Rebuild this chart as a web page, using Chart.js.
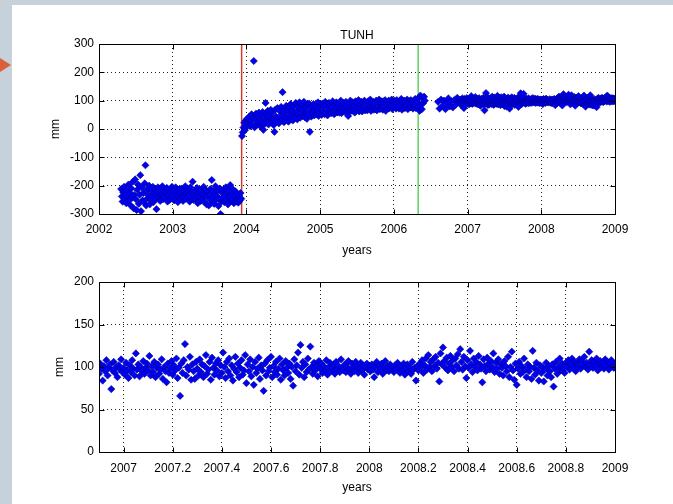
<!DOCTYPE html>
<html>
<head>
<meta charset="utf-8">
<title>TUNH</title>
<script src="https://cdn.jsdelivr.net/npm/chart.js@4.4.0/dist/chart.umd.min.js"></script>
<style>
html, body { margin: 0; padding: 0; }
body { width: 673px; height: 504px; background: #c6d1da; position: relative; overflow: hidden; }
#sheet { position: absolute; left: 12px; top: 5px; right: 0; bottom: 0; background: #fff; }
#arrow { position: absolute; left: 0; top: 58px; width: 0; height: 0;
  border-top: 7.5px solid transparent; border-bottom: 7.5px solid transparent; border-left: 11px solid #d9603b; }
canvas { position: absolute; left: 0; }
#topChart { top: 0; }
#zoomChart { top: 258px; }
</style>
</head>
<body>
<div id="sheet"></div>
<div id="arrow"></div>
<canvas id="topChart" width="673" height="258"></canvas>
<canvas id="zoomChart" width="673" height="246"></canvas>
<script>
// station
const station = 'TUNH';

// 2002.3 - 2003.93, before the offset
const earlyYears = [
  2002.30,2002.31,2002.32,2002.33,2002.34,2002.35,2002.36,2002.37,2002.38,2002.39,
  2002.40,2002.41,2002.42,2002.43,2002.44,2002.45,2002.46,2002.47,2002.48,2002.49,
  2002.50,2002.51,2002.52,2002.53,2002.54,2002.55,2002.56,2002.57,2002.58,2002.59,
  2002.60,2002.61,2002.62,2002.63,2002.64,2002.65,2002.66,2002.67,2002.68,2002.69,
  2002.70,2002.71,2002.72,2002.73,2002.74,2002.75,2002.76,2002.77,2002.78,2002.79,
  2002.80,2002.81,2002.82,2002.83,2002.84,2002.85,2002.86,2002.87,2002.88,2002.89,
  2002.90,2002.91,2002.92,2002.93,2002.94,2002.95,2002.96,2002.97,2002.98,2002.99,
  2003.00,2003.01,2003.02,2003.03,2003.04,2003.05,2003.06,2003.07,2003.08,2003.09,
  2003.10,2003.11,2003.12,2003.13,2003.14,2003.15,2003.16,2003.17,2003.18,2003.19,
  2003.20,2003.21,2003.22,2003.23,2003.24,2003.25,2003.26,2003.27,2003.28,2003.29,
  2003.30,2003.31,2003.32,2003.33,2003.34,2003.35,2003.36,2003.37,2003.38,2003.39,
  2003.40,2003.41,2003.42,2003.43,2003.44,2003.45,2003.46,2003.47,2003.48,2003.49,
  2003.50,2003.51,2003.52,2003.53,2003.54,2003.55,2003.56,2003.57,2003.58,2003.59,
  2003.60,2003.61,2003.62,2003.63,2003.64,2003.65,2003.66,2003.67,2003.68,2003.69,
  2003.70,2003.71,2003.72,2003.73,2003.74,2003.75,2003.76,2003.77,2003.78,2003.79,
  2003.80,2003.81,2003.82,2003.83,2003.84,2003.85,2003.86,2003.87,2003.88,2003.89,
  2003.90,2003.91,2003.92,2003.93
];
const earlyMm = [
  -212,-238,-256,-224,-204,-246,-230,-262,-218,-240,
  -196,-252,-226,-270,-210,-242,-186,-280,-232,-178,
  -248,-286,-214,-196,-264,-232,-163,-290,-206,-252,
  -226,-258,-192,-128,-270,-214,-244,-234,-200,-266,
  -250,-218,-236,-204,-258,-228,-212,-246,-283,-222,
  -206,-240,-228,-254,-216,-232,-202,-248,-236,-220,
  -244,-224,-208,-256,-232,-214,-250,-226,-240,-204,
  -236,-218,-252,-228,-206,-244,-222,-258,-232,-212,
  -226,-248,-210,-238,-254,-220,-234,-202,-246,-228,
  -240,-214,-232,-256,-206,-244,-224,-186,-250,-230,
  -218,-246,-234,-208,-262,-228,-242,-214,-254,-224,
  -248,-230,-204,-258,-236,-216,-266,-240,-222,-270,
  -232,-212,-252,-180,-244,-220,-264,-230,-202,-250,
  -238,-218,-272,-246,-210,-300,-256,-226,-242,-214,
  -258,-230,-206,-248,-224,-266,-216,-240,-198,-254,
  -232,-250,-214,-262,-238,-220,-256,-228,-244,-260,
  -236,-252,-226,-246
];

// 2003.94 - 2006.42, after the offset
const midYears = [
  2003.94,2003.95,2003.96,2003.97,2003.98,2003.99,2004.00,2004.01,2004.02,2004.03,
  2004.04,2004.05,2004.06,2004.07,2004.08,2004.09,2004.10,2004.11,2004.12,2004.13,
  2004.14,2004.15,2004.16,2004.17,2004.18,2004.19,2004.20,2004.21,2004.22,2004.23,
  2004.24,2004.25,2004.26,2004.27,2004.28,2004.29,2004.30,2004.31,2004.32,2004.33,
  2004.34,2004.35,2004.36,2004.37,2004.38,2004.39,2004.40,2004.41,2004.42,2004.43,
  2004.44,2004.45,2004.46,2004.47,2004.48,2004.49,2004.50,2004.51,2004.52,2004.53,
  2004.54,2004.55,2004.56,2004.57,2004.58,2004.59,2004.60,2004.61,2004.62,2004.63,
  2004.64,2004.65,2004.66,2004.67,2004.68,2004.69,2004.70,2004.71,2004.72,2004.73,
  2004.74,2004.75,2004.76,2004.77,2004.78,2004.79,2004.80,2004.81,2004.82,2004.83,
  2004.84,2004.85,2004.86,2004.87,2004.88,2004.89,2004.90,2004.91,2004.92,2004.93,
  2004.94,2004.95,2004.96,2004.97,2004.98,2004.99,2005.00,2005.01,2005.02,2005.03,
  2005.04,2005.05,2005.06,2005.07,2005.08,2005.09,2005.10,2005.11,2005.12,2005.13,
  2005.14,2005.15,2005.16,2005.17,2005.18,2005.19,2005.20,2005.21,2005.22,2005.23,
  2005.24,2005.25,2005.26,2005.27,2005.28,2005.29,2005.30,2005.31,2005.32,2005.33,
  2005.34,2005.35,2005.36,2005.37,2005.38,2005.39,2005.40,2005.41,2005.42,2005.43,
  2005.44,2005.45,2005.46,2005.47,2005.48,2005.49,2005.50,2005.51,2005.52,2005.53,
  2005.54,2005.55,2005.56,2005.57,2005.58,2005.59,2005.60,2005.61,2005.62,2005.63,
  2005.64,2005.65,2005.66,2005.67,2005.68,2005.69,2005.70,2005.71,2005.72,2005.73,
  2005.74,2005.75,2005.76,2005.77,2005.78,2005.79,2005.80,2005.81,2005.82,2005.83,
  2005.84,2005.85,2005.86,2005.87,2005.88,2005.89,2005.90,2005.91,2005.92,2005.93,
  2005.94,2005.95,2005.96,2005.97,2005.98,2005.99,2006.00,2006.01,2006.02,2006.03,
  2006.04,2006.05,2006.06,2006.07,2006.08,2006.09,2006.10,2006.11,2006.12,2006.13,
  2006.14,2006.15,2006.16,2006.17,2006.18,2006.19,2006.20,2006.21,2006.22,2006.23,
  2006.24,2006.25,2006.26,2006.27,2006.28,2006.29,2006.30,2006.31,2006.32,2006.33,
  2006.34,2006.35,2006.36,2006.37,2006.38,2006.39,2006.40,2006.41,2006.42
];
const midMm = [
  -25,-12,5,22,-4,30,8,36,14,26,
  44,10,30,52,16,38,240,6,34,54,
  14,46,24,58,30,10,50,22,60,-3,
  40,18,92,54,28,64,16,46,32,68,
  24,58,36,14,-10,68,44,26,74,38,
  20,64,46,78,30,130,56,24,72,42,
  82,34,62,26,76,48,88,38,66,30,
  80,52,40,92,62,34,78,50,94,40,
  70,86,46,60,96,42,76,58,36,84,
  52,90,-10,68,44,80,58,88,48,74,
  82,52,66,94,46,76,58,86,50,90,
  62,80,52,96,58,84,48,74,92,60,
  86,56,76,98,62,52,88,68,94,58,
  78,90,58,72,100,56,86,64,92,70,
  60,96,80,66,46,90,62,100,76,64,
  94,68,82,58,98,66,90,72,102,62,
  88,70,96,62,92,74,100,66,94,72,
  66,98,84,70,104,64,92,74,96,68,
  90,70,100,66,94,76,104,70,92,74,
  98,68,94,76,102,64,92,96,72,100,
  74,94,80,104,70,96,78,100,88,72,
  102,78,96,72,98,82,106,68,94,76,
  100,74,96,80,104,70,94,98,76,102,
  78,96,72,100,84,106,74,98,90,76,
  110,64,118,86,70,108,92,114,100
];

// 2006.60 - 2006.88, start of the last segment
const restartYears = [
  2006.60,2006.62,2006.64,2006.66,2006.68,2006.70,2006.72,2006.74,2006.76,2006.78,
  2006.80,2006.82,2006.84,2006.86,2006.88
];
const restartMm = [96,72,104,82,100,70,92,108,80,98,76,102,86,110,94];

// 2006.9 - 2009.0, shown again in the lower panel
const lateYears = [
  2006.900,2006.905,2006.910,2006.915,2006.920,2006.925,2006.930,2006.935,2006.940,2006.945,2006.950,2006.955,2006.960,2006.965,2006.970,2006.975,2006.980,2006.985,2006.990,2006.995,
  2007.000,2007.005,2007.010,2007.015,2007.020,2007.025,2007.030,2007.035,2007.040,2007.045,2007.050,2007.055,2007.060,2007.065,2007.070,2007.075,2007.080,2007.085,2007.090,2007.095,
  2007.100,2007.105,2007.110,2007.115,2007.120,2007.125,2007.130,2007.135,2007.140,2007.145,2007.150,2007.155,2007.160,2007.165,2007.170,2007.175,2007.180,2007.185,2007.190,2007.195,
  2007.200,2007.205,2007.210,2007.215,2007.220,2007.225,2007.230,2007.235,2007.240,2007.245,2007.250,2007.255,2007.260,2007.265,2007.270,2007.275,2007.280,2007.285,2007.290,2007.295,
  2007.300,2007.305,2007.310,2007.315,2007.320,2007.325,2007.330,2007.335,2007.340,2007.345,2007.350,2007.355,2007.360,2007.365,2007.370,2007.375,2007.380,2007.385,2007.390,2007.395,
  2007.400,2007.405,2007.410,2007.415,2007.420,2007.425,2007.430,2007.435,2007.440,2007.445,2007.450,2007.455,2007.460,2007.465,2007.470,2007.475,2007.480,2007.485,2007.490,2007.495,
  2007.500,2007.505,2007.510,2007.515,2007.520,2007.525,2007.530,2007.535,2007.540,2007.545,2007.550,2007.555,2007.560,2007.565,2007.570,2007.575,2007.580,2007.585,2007.590,2007.595,
  2007.600,2007.605,2007.610,2007.615,2007.620,2007.625,2007.630,2007.635,2007.640,2007.645,2007.650,2007.655,2007.660,2007.665,2007.670,2007.675,2007.680,2007.685,2007.690,2007.695,
  2007.700,2007.705,2007.710,2007.715,2007.720,2007.725,2007.730,2007.735,2007.740,2007.745,2007.750,2007.755,2007.760,2007.765,2007.770,2007.775,2007.780,2007.785,2007.790,2007.795,
  2007.800,2007.805,2007.810,2007.815,2007.820,2007.825,2007.830,2007.835,2007.840,2007.845,2007.850,2007.855,2007.860,2007.865,2007.870,2007.875,2007.880,2007.885,2007.890,2007.895,
  2007.900,2007.905,2007.910,2007.915,2007.920,2007.925,2007.930,2007.935,2007.940,2007.945,2007.950,2007.955,2007.960,2007.965,2007.970,2007.975,2007.980,2007.985,2007.990,2007.995,
  2008.000,2008.005,2008.010,2008.015,2008.020,2008.025,2008.030,2008.035,2008.040,2008.045,2008.050,2008.055,2008.060,2008.065,2008.070,2008.075,2008.080,2008.085,2008.090,2008.095,
  2008.100,2008.105,2008.110,2008.115,2008.120,2008.125,2008.130,2008.135,2008.140,2008.145,2008.150,2008.155,2008.160,2008.165,2008.170,2008.175,2008.180,2008.185,2008.190,2008.195,
  2008.200,2008.205,2008.210,2008.215,2008.220,2008.225,2008.230,2008.235,2008.240,2008.245,2008.250,2008.255,2008.260,2008.265,2008.270,2008.275,2008.280,2008.285,2008.290,2008.295,
  2008.300,2008.305,2008.310,2008.315,2008.320,2008.325,2008.330,2008.335,2008.340,2008.345,2008.350,2008.355,2008.360,2008.365,2008.370,2008.375,2008.380,2008.385,2008.390,2008.395,
  2008.400,2008.405,2008.410,2008.415,2008.420,2008.425,2008.430,2008.435,2008.440,2008.445,2008.450,2008.455,2008.460,2008.465,2008.470,2008.475,2008.480,2008.485,2008.490,2008.495,
  2008.500,2008.505,2008.510,2008.515,2008.520,2008.525,2008.530,2008.535,2008.540,2008.545,2008.550,2008.555,2008.560,2008.565,2008.570,2008.575,2008.580,2008.585,2008.590,2008.595,
  2008.600,2008.605,2008.610,2008.615,2008.620,2008.625,2008.630,2008.635,2008.640,2008.645,2008.650,2008.655,2008.660,2008.665,2008.670,2008.675,2008.680,2008.685,2008.690,2008.695,
  2008.700,2008.705,2008.710,2008.715,2008.720,2008.725,2008.730,2008.735,2008.740,2008.745,2008.750,2008.755,2008.760,2008.765,2008.770,2008.775,2008.780,2008.785,2008.790,2008.795,
  2008.800,2008.805,2008.810,2008.815,2008.820,2008.825,2008.830,2008.835,2008.840,2008.845,2008.850,2008.855,2008.860,2008.865,2008.870,2008.875,2008.880,2008.885,2008.890,2008.895,
  2008.900,2008.905,2008.910,2008.915,2008.920,2008.925,2008.930,2008.935,2008.940,2008.945,2008.950,2008.955,2008.960,2008.965,2008.970,2008.975,2008.980,2008.985,2008.990,2008.995,
  2009.000
];
const lateMm = [
  92,104,98,84,101,95,108,90,99,103,74,96,106,93,100,88,102,97,109,94,
  99,91,105,96,87,102,94,108,98,90,116,97,103,89,100,95,107,92,99,104,
  96,113,90,101,94,106,88,99,103,92,97,109,86,100,95,82,104,93,98,107,
  91,102,96,110,87,99,66,104,93,108,127,90,100,97,112,85,103,95,86,106,
  98,90,109,94,103,88,101,114,92,97,106,85,111,99,91,104,96,108,89,102,
  93,117,100,87,106,95,110,90,102,84,98,112,94,104,88,99,108,91,96,114,
  81,103,95,109,89,100,79,106,93,98,111,86,102,96,72,104,90,108,95,99,
  112,88,101,94,106,91,98,110,85,103,96,90,107,99,93,104,86,100,78,109,
  95,102,117,91,126,99,106,88,103,94,110,97,124,100,92,105,96,101,89,107,
  98,104,93,101,96,108,91,100,105,95,99,103,92,106,97,101,94,109,99,96,
  103,94,100,107,97,92,104,99,95,106,101,93,98,105,96,102,91,100,104,97,
  99,95,103,97,88,101,106,94,100,98,104,92,99,107,96,101,95,103,98,100,
  94,102,97,105,99,93,101,96,104,91,98,103,95,100,92,106,97,99,84,101,
  96,104,99,108,93,102,110,97,114,100,106,95,109,101,112,98,105,83,116,103,
  123,107,99,111,96,104,113,100,108,95,110,102,115,98,121,106,97,112,101,87,
  108,99,119,103,94,110,100,106,96,113,103,98,82,109,101,95,111,104,97,107,
  100,116,94,105,98,109,92,103,99,90,107,101,95,112,88,100,118,96,85,104,
  79,98,106,92,101,94,110,97,88,103,95,100,86,119,99,91,105,96,84,102,
  93,100,83,97,105,90,101,95,88,103,77,98,106,92,100,110,96,104,99,93,
  105,100,108,97,103,110,99,106,95,104,101,109,98,107,102,112,100,105,97,118,
  103,108,99,106,101,110,96,104,107,100,105,98,109,102,106,97,104,108,101,99,
  104
];

// event markers (antenna change, equipment change)
const eventYears = [2003.935, 2006.33];
const eventColors = ['#d43a30', '#5fd060'];

// axes
const topYearTicks = [2002, 2003, 2004, 2005, 2006, 2007, 2008, 2009];
const topMmTicks = [-300, -200, -100, 0, 100, 200, 300];
const zoomYearTicks = [2007, 2007.2, 2007.4, 2007.6, 2007.8, 2008, 2008.2, 2008.4, 2008.6, 2008.8, 2009];
const zoomMmTicks = [0, 50, 100, 150, 200];

Chart.defaults.font.family = '"Liberation Sans", Arial, Helvetica, sans-serif';
Chart.defaults.font.size = 12;
Chart.defaults.color = '#000';

function toPoints(xs, ys) {
  return xs.map((x, i) => ({ x: x, y: ys[i] }));
}

// box around the plot area plus inward tick marks, matlab style
const axesBox = {
  id: 'axesBox',
  afterDatasetsDraw(chart) {
    const { ctx, chartArea: a, scales } = chart;
    const L = Math.round(a.left) + 0.5, R = Math.round(a.right) + 0.5;
    const T = Math.round(a.top) + 0.5, B = Math.round(a.bottom) + 0.5;
    ctx.save();
    ctx.strokeStyle = '#000';
    ctx.lineWidth = 1;
    ctx.beginPath();
    scales.x.ticks.forEach(t => {
      const px = Math.round(scales.x.getPixelForValue(t.value)) + 0.5;
      ctx.moveTo(px, B); ctx.lineTo(px, B - 5);
      ctx.moveTo(px, T); ctx.lineTo(px, T + 5);
    });
    scales.y.ticks.forEach(t => {
      const py = Math.round(scales.y.getPixelForValue(t.value)) + 0.5;
      ctx.moveTo(L, py); ctx.lineTo(L + 5, py);
      ctx.moveTo(R, py); ctx.lineTo(R - 5, py);
    });
    ctx.stroke();
    ctx.strokeRect(L, T, R - L, B - T);
    ctx.restore();
  }
};

const pointStyle = {
  type: 'scatter',
  pointStyle: 'rectRot',
  pointRadius: 3.6,
  pointHoverRadius: 3.6,
  backgroundColor: '#0000f2',
  borderColor: '#00008a',
  borderWidth: 0.6
};

function makeScales(o) {
  return {
    x: {
      type: 'linear',
      min: o.xMin, max: o.xMax,
      afterBuildTicks: s => { s.ticks = o.xTicks.map(v => ({ value: v })); },
      afterFit: s => { s.height = o.xHeight; },
      ticks: {
        padding: o.xPad, autoSkip: false, maxRotation: 0,
        callback: v => String(Math.round(v * 10) / 10)
      },
      grid: { color: '#222', lineWidth: 1, drawTicks: false },
      border: { display: false, dash: [1, 3] },
      title: { display: true, text: 'years', padding: { top: 0, bottom: o.xTitlePad } }
    },
    y: {
      type: 'linear',
      min: o.yMin, max: o.yMax,
      afterBuildTicks: s => { s.ticks = o.yTicks.map(v => ({ value: v })); },
      afterFit: s => { s.width = 99; },
      ticks: { padding: 5, callback: v => String(v) },
      grid: { color: '#222', lineWidth: 1, drawTicks: false },
      border: { display: false, dash: [1, 3] },
      title: { display: true, text: 'mm', padding: { top: o.yTitlePad, bottom: 0 } }
    }
  };
}

const topPoints = toPoints(earlyYears, earlyMm)
  .concat(toPoints(midYears, midMm))
  .concat(toPoints(restartYears, restartMm))
  .concat(toPoints(lateYears, lateMm));

const eventSets = eventYears.map((yr, i) => ({
  type: 'line',
  showLine: true,
  data: [{ x: yr, y: topMmTicks[0] }, { x: yr, y: topMmTicks[topMmTicks.length - 1] }],
  borderColor: eventColors[i],
  borderWidth: 1.5,
  pointRadius: 0
}));

new Chart(document.getElementById('topChart'), {
  type: 'scatter',
  data: {
    datasets: [Object.assign({ data: topPoints }, pointStyle)].concat(eventSets)
  },
  options: {
    responsive: false,
    animation: false,
    events: [],
    layout: { padding: { left: 0, right: 58, top: 0, bottom: 0 } },
    plugins: {
      legend: { display: false },
      tooltip: { enabled: false },
      title: {
        display: true, text: station, fullSize: false,
        font: { size: 12, weight: 'normal' }, color: '#000',
        padding: { top: 28, bottom: 1.6 }
      }
    },
    scales: makeScales({
      xMin: 2002, xMax: 2009, xTicks: topYearTicks, xHeight: 44, xPad: 8, xTitlePad: 0,
      yMin: -300, yMax: 300, yTicks: topMmTicks, yTitlePad: 48
    })
  },
  plugins: [axesBox]
});

new Chart(document.getElementById('zoomChart'), {
  type: 'scatter',
  data: {
    datasets: [Object.assign({ data: toPoints(lateYears, lateMm) }, pointStyle)]
  },
  options: {
    responsive: false,
    animation: false,
    events: [],
    layout: { padding: { left: 0, right: 58, top: 24, bottom: 0 } },
    plugins: {
      legend: { display: false },
      tooltip: { enabled: false }
    },
    scales: makeScales({
      xMin: 2006.9, xMax: 2009, xTicks: zoomYearTicks, xHeight: 52, xPad: 9, xTitlePad: 9.3,
      yMin: 0, yMax: 200, yTicks: zoomMmTicks, yTitlePad: 52.6
    })
  },
  plugins: [axesBox]
});
</script>
</body>
</html>
